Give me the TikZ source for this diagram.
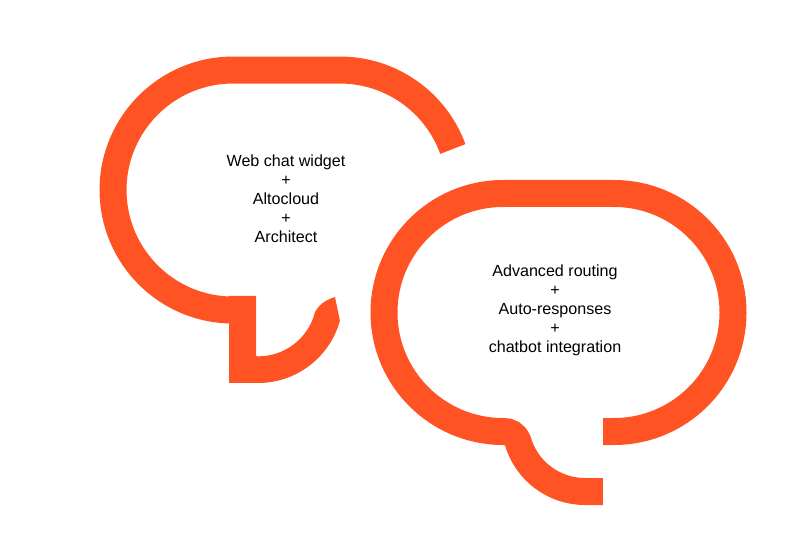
\documentclass[tikz,border=0pt]{standalone}
\usepackage{fontspec}
\setmainfont{Liberation Sans}
\definecolor{bubbleorange}{HTML}{FF5323}
\tikzset{
    bubbleline/.style={draw=bubbleorange,line width=27pt,line join=miter},
    bubbletext/.style={align=center,font=\fontsize{16.1}{19}\selectfont,text=black},
}
\begin{document}
\begin{tikzpicture}[x=1pt,y=1pt]
    \useasboundingbox (0,0) rectangle (800,541);
    \fill[white] (0,0) rectangle (800,541);
    % left bubble
    \draw[bubbleline] (452.8,392) arc[start angle=20,end angle=90,radius=120] -- +(-107,0)
        arc[start angle=90,end angle=270,radius=120] -- +(9,0);
    \fill[bubbleorange] (229,245) -- (229,158) -- (258,158)
        arc[start angle=-90,end angle=-15.5,radius=85] -- (335,244)
        .. controls (325,241) and (319,236) .. (315,229)
        arc[start angle=-14,end angle=-90,radius=58.5] -- (256,185) -- (256,245) -- cycle;
    % right bubble
    \draw[bubbleline] (603,109.5) -- (614,109.5) arc[start angle=-90,end angle=90,radius=119] -- (503,347.5)
        arc[start angle=90,end angle=270,radius=119]
        .. controls (510,109.5) and (514.5,107) .. (517.7,100.2)
        arc[start angle=196,end angle=270,radius=70] -- +(18,0);
    \node[bubbletext] (webchat) at (286,342.5) {Web chat widget\\+\\Altocloud\\+\\Architect};
    \node[bubbletext] (routing) at (555,230.5) {Advanced routing\\+\\Auto-responses\\+\\chatbot integration};
\end{tikzpicture}
\end{document}
